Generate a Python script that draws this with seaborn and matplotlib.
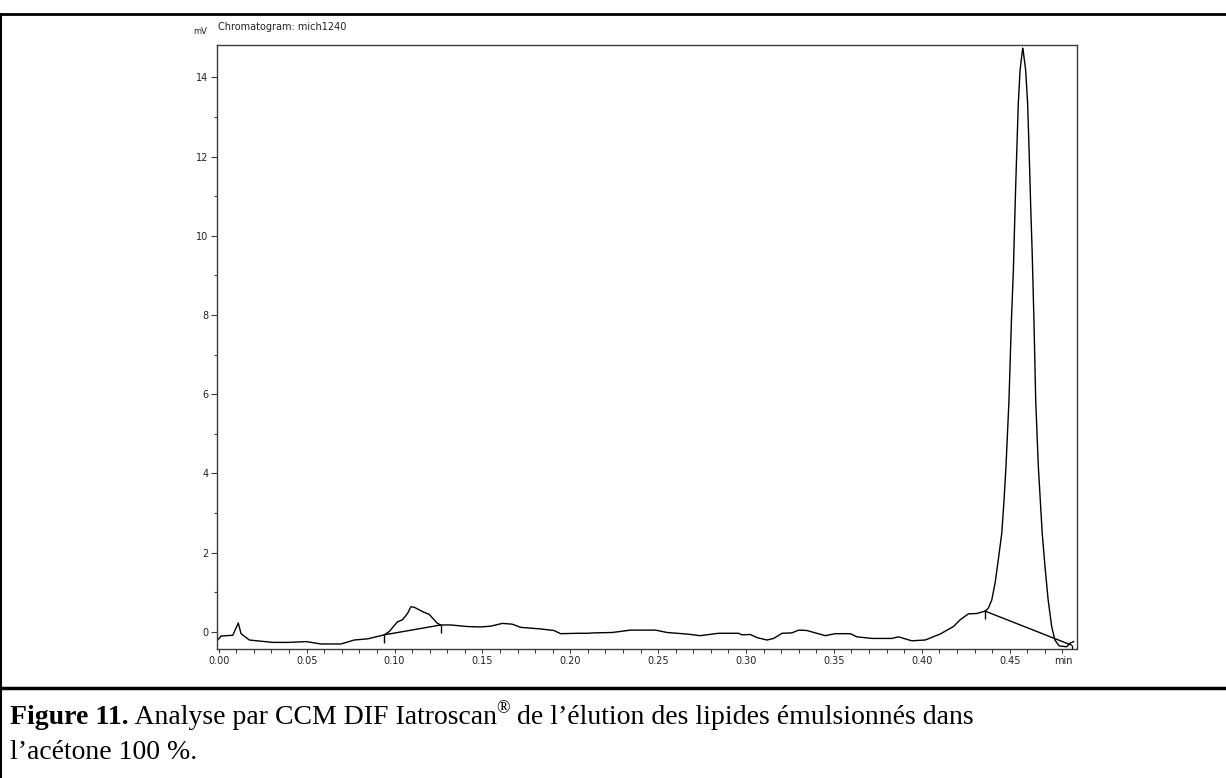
import numpy as np
import pandas as pd
import seaborn as sns
import matplotlib
matplotlib.use("Agg")
import matplotlib.pyplot as plt
from matplotlib.ticker import MultipleLocator, FixedLocator
from matplotlib.lines import Line2D

# Detector trace: time (min) and FID signal (mV)
time_min = [-0.0006, 0.0013, 0.0080, 0.0111, 0.0127, 0.0174, 0.0240, 0.0307, 0.0400,
            0.0497, 0.0582, 0.0696, 0.0771, 0.0848, 0.0941, 0.0969, 0.1017, 0.1045,
            0.1074, 0.1093, 0.1111, 0.1168, 0.1197, 0.1244, 0.1263, 0.1320, 0.1415,
            0.1490, 0.1547, 0.1614, 0.1670, 0.1718, 0.1831, 0.1907, 0.1945, 0.2040,
            0.2097, 0.2134, 0.2239, 0.2343, 0.2485, 0.2551, 0.2665, 0.2740, 0.2844,
            0.2958, 0.2977, 0.3024, 0.3063, 0.3119, 0.3157, 0.3205, 0.3261, 0.3299,
            0.3347, 0.3394, 0.3451, 0.3507, 0.3593, 0.3631, 0.3716, 0.3830, 0.3867,
            0.3943, 0.4019, 0.4104, 0.4180, 0.4218, 0.4265, 0.4313, 0.4360, 0.4378,
            0.4398, 0.4417, 0.4435, 0.4455, 0.4468, 0.4479, 0.4496, 0.4510, 0.4521,
            0.4526, 0.4534, 0.4540, 0.4549, 0.4559, 0.4574, 0.4578, 0.4591, 0.4602,
            0.4611, 0.4619, 0.4628, 0.4638, 0.4648, 0.4663, 0.4685, 0.4701, 0.4719,
            0.4739, 0.4757, 0.4782, 0.4824, 0.4843, 0.4865]
signal_mv = [-0.21, -0.11, -0.09, 0.22, -0.05, -0.21, -0.24, -0.27, -0.27,
             -0.25, -0.31, -0.31, -0.21, -0.18, -0.08, 0.00, 0.25, 0.30,
             0.46, 0.63, 0.62, 0.49, 0.44, 0.21, 0.17, 0.17, 0.13,
             0.12, 0.14, 0.21, 0.19, 0.11, 0.07, 0.03, -0.05, -0.04,
             -0.04, -0.03, -0.02, 0.04, 0.04, -0.02, -0.06, -0.10, -0.04,
             -0.04, -0.08, -0.07, -0.15, -0.21, -0.17, -0.04, -0.03, 0.04,
             0.03, -0.03, -0.10, -0.05, -0.05, -0.13, -0.17, -0.17, -0.13,
             -0.23, -0.21, -0.06, 0.13, 0.30, 0.45, 0.46, 0.52, 0.59,
             0.80, 1.23, 1.81, 2.49, 3.33, 4.18, 5.85, 7.87, 9.13,
             9.97, 11.23, 12.08, 13.34, 14.18, 14.74, 14.64, 14.18, 13.35,
             12.09, 10.83, 9.57, 7.87, 5.85, 4.17, 2.49, 1.64, 0.80,
             0.13, -0.21, -0.36, -0.38, -0.29, -0.25]

# Integration baselines (start, end) for the two integrated peaks
base1_t = [0.0941, 0.1263]
base1_mv = [-0.08, 0.17]
base2_t = [0.4360, 0.4852]
base2_mv = [0.52, -0.34]

x_major = [0.00, 0.05, 0.10, 0.15, 0.20, 0.25, 0.30, 0.35, 0.40, 0.45]
x_labels = ["0.00", "0.05", "0.10", "0.15", "0.20", "0.25", "0.30", "0.35", "0.40", "0.45"]
y_major = [0, 2, 4, 6, 8, 10, 12, 14]

chart_title = "Chromatogram: mich1240"
y_unit = "mV"
x_unit = "min"

sns.set_style("ticks")
plt.rcParams["font.family"] = ["DejaVu Sans"]

fig = plt.figure(figsize=(12.26, 7.78), dpi=100)
W, H = 1226, 778

ax = fig.add_axes([217 / W, 1 - 649 / H, (1077 - 217) / W, (649 - 45) / H])

trace = pd.DataFrame({"t": time_min, "mv": signal_mv})
sns.lineplot(data=trace, x="t", y="mv", ax=ax, color="black", linewidth=1.0,
             sort=False, estimator=None)

for bt, bm in [(base1_t, base1_mv), (base2_t, base2_mv)]:
    bl = pd.DataFrame({"t": bt, "mv": bm})
    sns.lineplot(data=bl, x="t", y="mv", ax=ax, color="black", linewidth=1.0,
                 sort=False, estimator=None)
    ax.plot(bt, bm, linestyle="none", marker=3, markersize=6,
            markeredgewidth=1.0, color="black")

ax.set_xlim(-0.0010, 0.4883)
ax.set_ylim(-0.437, 14.82)

ax.xaxis.set_major_locator(FixedLocator(x_major))
ax.set_xticklabels(x_labels)
ax.xaxis.set_minor_locator(MultipleLocator(0.01))
ax.yaxis.set_major_locator(FixedLocator(y_major))
ax.set_yticklabels([str(v) for v in y_major])
ax.yaxis.set_minor_locator(MultipleLocator(1))

spine_col = "#3c3c3c"
for s in ax.spines.values():
    s.set_visible(True)
    s.set_color(spine_col)
    s.set_linewidth(1.0)

ax.tick_params(axis="x", which="both", direction="out", length=3.2, width=0.8,
               color=spine_col, labelsize=7, pad=2, labelcolor="#222222")
ax.tick_params(axis="y", which="major", direction="out", length=4.5, width=0.8,
               color=spine_col, labelsize=7, pad=1.5, labelcolor="#222222")
ax.tick_params(axis="y", which="minor", direction="out", length=2.5, width=0.8,
               color=spine_col)
ax.set_xlabel("")
ax.set_ylabel("")

fig.text(193 / W, 1 - 31 / H, y_unit, fontsize=6, ha="left", va="center", color="#222222")
fig.text(218 / W, 1 - 27 / H, chart_title, fontsize=7, ha="left", va="center", color="#222222")
fig.text(1063 / W, 1 - 661 / H, x_unit, fontsize=7, ha="center", va="center", color="#222222")

# Figure frame and caption rule
fig.add_artist(Line2D([0, 1], [1 - 14 / H, 1 - 14 / H], transform=fig.transFigure,
                      color="black", linewidth=2.0))
fig.add_artist(Line2D([1.5 / W, 1.5 / W], [0, 1 - 14 / H], transform=fig.transFigure,
                      color="black", linewidth=1.5))
fig.add_artist(Line2D([0, 1], [1 - 688 / H, 1 - 688 / H], transform=fig.transFigure,
                      color="black", linewidth=2.5))

# Caption: bold label followed by regular text, with a superscript ®
cap_font = ["Liberation Serif", "DejaVu Serif"]
cap_size = 20
x0 = 10 / W
y1 = 1 - 724 / H
y2 = 1 - 759 / H
renderer = fig.canvas.get_renderer()

def put(x, y, s, **kw):
    t = fig.text(x, y, s, family=cap_font, ha="left", va="baseline", color="black", **kw)
    bb = t.get_window_extent(renderer=renderer)
    return bb.x1 / W

x = put(x0, y1, "Figure 11.", fontsize=cap_size, fontweight="bold")
x = put(x, y1, " Analyse par CCM DIF Iatroscan", fontsize=cap_size)
x = put(x, y1 + 11 / H, "®", fontsize=cap_size * 0.65)
put(x, y1, " de l\u2019élution des lipides émulsionnés dans", fontsize=cap_size)
put(x0, y2, "l\u2019acétone 100 %.", fontsize=cap_size)

fig.savefig("out.png", dpi=100)
